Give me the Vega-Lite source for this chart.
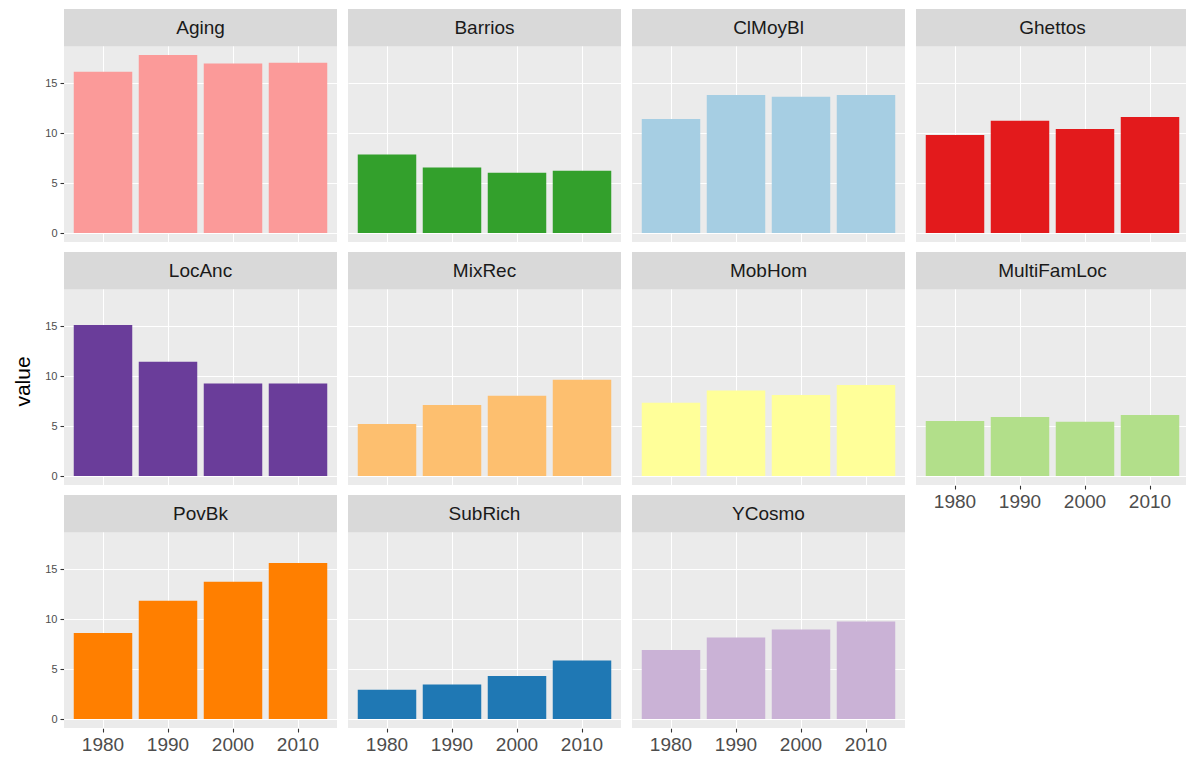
{
  "$schema": "https://vega.github.io/schema/vega-lite/v6.json",
  "padding": {"left": 12, "top": 9, "right": 0, "bottom": 0},
  "background": "white",
  "title": {"text": "value", "orient": "left", "anchor": "middle", "font": "Liberation Sans", "fontSize": 21, "fontWeight": "normal", "color": "black", "offset": 11},
  "data": {"values": [
    {"group": "Aging", "year": "1980", "value": 16.13},
    {"group": "Aging", "year": "1990", "value": 17.8},
    {"group": "Aging", "year": "2000", "value": 16.97},
    {"group": "Aging", "year": "2010", "value": 17.03},
    {"group": "Barrios", "year": "1980", "value": 7.87},
    {"group": "Barrios", "year": "1990", "value": 6.57},
    {"group": "Barrios", "year": "2000", "value": 6.03},
    {"group": "Barrios", "year": "2010", "value": 6.23},
    {"group": "ClMoyBl", "year": "1980", "value": 11.4},
    {"group": "ClMoyBl", "year": "1990", "value": 13.8},
    {"group": "ClMoyBl", "year": "2000", "value": 13.63},
    {"group": "ClMoyBl", "year": "2010", "value": 13.8},
    {"group": "Ghettos", "year": "1980", "value": 9.8},
    {"group": "Ghettos", "year": "1990", "value": 11.23},
    {"group": "Ghettos", "year": "2000", "value": 10.4},
    {"group": "Ghettos", "year": "2010", "value": 11.6},
    {"group": "LocAnc", "year": "1980", "value": 15.1},
    {"group": "LocAnc", "year": "1990", "value": 11.43},
    {"group": "LocAnc", "year": "2000", "value": 9.27},
    {"group": "LocAnc", "year": "2010", "value": 9.27},
    {"group": "MixRec", "year": "1980", "value": 5.2},
    {"group": "MixRec", "year": "1990", "value": 7.1},
    {"group": "MixRec", "year": "2000", "value": 8.03},
    {"group": "MixRec", "year": "2010", "value": 9.63},
    {"group": "MobHom", "year": "1980", "value": 7.33},
    {"group": "MobHom", "year": "1990", "value": 8.57},
    {"group": "MobHom", "year": "2000", "value": 8.1},
    {"group": "MobHom", "year": "2010", "value": 9.1},
    {"group": "MultiFamLoc", "year": "1980", "value": 5.5},
    {"group": "MultiFamLoc", "year": "1990", "value": 5.9},
    {"group": "MultiFamLoc", "year": "2000", "value": 5.43},
    {"group": "MultiFamLoc", "year": "2010", "value": 6.1},
    {"group": "PovBk", "year": "1980", "value": 8.6},
    {"group": "PovBk", "year": "1990", "value": 11.83},
    {"group": "PovBk", "year": "2000", "value": 13.73},
    {"group": "PovBk", "year": "2010", "value": 15.6},
    {"group": "SubRich", "year": "1980", "value": 2.93},
    {"group": "SubRich", "year": "1990", "value": 3.47},
    {"group": "SubRich", "year": "2000", "value": 4.3},
    {"group": "SubRich", "year": "2010", "value": 5.87},
    {"group": "YCosmo", "year": "1980", "value": 6.9},
    {"group": "YCosmo", "year": "1990", "value": 8.17},
    {"group": "YCosmo", "year": "2000", "value": 8.97},
    {"group": "YCosmo", "year": "2010", "value": 9.77}
  ]},
  "spacing": 11,
  "hconcat": [
    {
      "transform": [{"filter": {"field": "group", "oneOf": ["Aging", "LocAnc", "PovBk"]}}],
      "facet": {"row": {"field": "group", "type": "nominal", "title": null, "sort": ["Aging", "LocAnc", "PovBk"],
        "header": {"labels": false, "title": null, "labelExpr": "''", "labelFontSize": 0, "labelPadding": 0}}},
      "spacing": 10,
      "spec": {
        "width": 273, "height": 233,
        "layer": [
          {"mark": {"type": "bar"},
           "encoding": {
             "x": {"field": "year", "type": "ordinal", "title": null, "scale": {"paddingInner": 0.1, "paddingOuter": 0.15}},
             "y": {"field": "value", "type": "quantitative", "title": null,
               "scale": {"domain": [-0.89, 22.41], "nice": false, "zero": false},
               "axis": {"values": [0, 2.5, 5, 7.5, 10, 12.5, 15, 17.5], "title": null,
                 "gridWidth": {"condition": {"test": "datum.value % 5 === 0", "value": 1.1}, "value": 0.55},
                 "tickOpacity": {"condition": {"test": "datum.value % 5 === 0", "value": 1}, "value": 0},
                 "labelExpr": "datum.value % 5 === 0 ? datum.label : ''"}},
             "color": {"field": "group", "type": "nominal", "legend": null,
               "scale": {"domain": ["Aging","Barrios","ClMoyBl","Ghettos","LocAnc","MixRec","MobHom","MultiFamLoc","PovBk","SubRich","YCosmo"],
                 "range": ["#FB9A99","#33A02C","#A6CEE3","#E31A1C","#6A3D9A","#FDBF6F","#FFFF99","#B2DF8A","#FF7F00","#1F78B4","#CAB2D6"]}}}},
          {"transform": [{"aggregate": [{"op": "count", "as": "n"}], "groupby": ["group"]}],
           "mark": {"type": "rect", "color": "#D9D9D9"},
           "encoding": {"y": {"datum": 18.69, "type": "quantitative", "title": null}, "y2": {"datum": 22.41}}},
          {"transform": [{"aggregate": [{"op": "count", "as": "n"}], "groupby": ["group"]}],
           "mark": {"type": "text", "font": "Liberation Sans", "fontSize": 19, "color": "#1A1A1A", "baseline": "middle", "align": "center"},
           "encoding": {"y": {"datum": 20.55, "type": "quantitative", "title": null}, "text": {"field": "group", "type": "nominal"}}}
        ]
      }
    },
    {
      "transform": [{"filter": {"field": "group", "oneOf": ["Barrios", "MixRec", "SubRich"]}}],
      "facet": {"row": {"field": "group", "type": "nominal", "title": null, "sort": ["Barrios", "MixRec", "SubRich"],
        "header": {"labels": false, "title": null, "labelExpr": "''", "labelFontSize": 0, "labelPadding": 0}}},
      "spacing": 10,
      "spec": {
        "width": 273, "height": 233,
        "layer": [
          {"mark": {"type": "bar"},
           "encoding": {
             "x": {"field": "year", "type": "ordinal", "title": null, "scale": {"paddingInner": 0.1, "paddingOuter": 0.15}},
             "y": {"field": "value", "type": "quantitative", "title": null,
               "scale": {"domain": [-0.89, 22.41], "nice": false, "zero": false},
               "axis": {"values": [0, 2.5, 5, 7.5, 10, 12.5, 15, 17.5], "title": null, "labels": false, "ticks": false,
                 "gridWidth": {"condition": {"test": "datum.value % 5 === 0", "value": 1.1}, "value": 0.55}}},
             "color": {"field": "group", "type": "nominal", "legend": null,
               "scale": {"domain": ["Aging","Barrios","ClMoyBl","Ghettos","LocAnc","MixRec","MobHom","MultiFamLoc","PovBk","SubRich","YCosmo"],
                 "range": ["#FB9A99","#33A02C","#A6CEE3","#E31A1C","#6A3D9A","#FDBF6F","#FFFF99","#B2DF8A","#FF7F00","#1F78B4","#CAB2D6"]}}}},
          {"transform": [{"aggregate": [{"op": "count", "as": "n"}], "groupby": ["group"]}],
           "mark": {"type": "rect", "color": "#D9D9D9"},
           "encoding": {"y": {"datum": 18.69, "type": "quantitative", "title": null}, "y2": {"datum": 22.41}}},
          {"transform": [{"aggregate": [{"op": "count", "as": "n"}], "groupby": ["group"]}],
           "mark": {"type": "text", "font": "Liberation Sans", "fontSize": 19, "color": "#1A1A1A", "baseline": "middle", "align": "center"},
           "encoding": {"y": {"datum": 20.55, "type": "quantitative", "title": null}, "text": {"field": "group", "type": "nominal"}}}
        ]
      }
    },
    {
      "transform": [{"filter": {"field": "group", "oneOf": ["ClMoyBl", "MobHom", "YCosmo"]}}],
      "facet": {"row": {"field": "group", "type": "nominal", "title": null, "sort": ["ClMoyBl", "MobHom", "YCosmo"],
        "header": {"labels": false, "title": null, "labelExpr": "''", "labelFontSize": 0, "labelPadding": 0}}},
      "spacing": 10,
      "spec": {
        "width": 273, "height": 233,
        "layer": [
          {"mark": {"type": "bar"},
           "encoding": {
             "x": {"field": "year", "type": "ordinal", "title": null, "scale": {"paddingInner": 0.1, "paddingOuter": 0.15}},
             "y": {"field": "value", "type": "quantitative", "title": null,
               "scale": {"domain": [-0.89, 22.41], "nice": false, "zero": false},
               "axis": {"values": [0, 2.5, 5, 7.5, 10, 12.5, 15, 17.5], "title": null, "labels": false, "ticks": false,
                 "gridWidth": {"condition": {"test": "datum.value % 5 === 0", "value": 1.1}, "value": 0.55}}},
             "color": {"field": "group", "type": "nominal", "legend": null,
               "scale": {"domain": ["Aging","Barrios","ClMoyBl","Ghettos","LocAnc","MixRec","MobHom","MultiFamLoc","PovBk","SubRich","YCosmo"],
                 "range": ["#FB9A99","#33A02C","#A6CEE3","#E31A1C","#6A3D9A","#FDBF6F","#FFFF99","#B2DF8A","#FF7F00","#1F78B4","#CAB2D6"]}}}},
          {"transform": [{"aggregate": [{"op": "count", "as": "n"}], "groupby": ["group"]}],
           "mark": {"type": "rect", "color": "#D9D9D9"},
           "encoding": {"y": {"datum": 18.69, "type": "quantitative", "title": null}, "y2": {"datum": 22.41}}},
          {"transform": [{"aggregate": [{"op": "count", "as": "n"}], "groupby": ["group"]}],
           "mark": {"type": "text", "font": "Liberation Sans", "fontSize": 19, "color": "#1A1A1A", "baseline": "middle", "align": "center"},
           "encoding": {"y": {"datum": 20.55, "type": "quantitative", "title": null}, "text": {"field": "group", "type": "nominal"}}}
        ]
      }
    },
    {
      "transform": [{"filter": {"field": "group", "oneOf": ["Ghettos", "MultiFamLoc"]}}],
      "facet": {"row": {"field": "group", "type": "nominal", "title": null, "sort": ["Ghettos", "MultiFamLoc"],
        "header": {"labels": false, "title": null, "labelExpr": "''", "labelFontSize": 0, "labelPadding": 0}}},
      "spacing": 10,
      "spec": {
        "width": 273, "height": 233,
        "layer": [
          {"mark": {"type": "bar"},
           "encoding": {
             "x": {"field": "year", "type": "ordinal", "title": null, "scale": {"paddingInner": 0.1, "paddingOuter": 0.15}},
             "y": {"field": "value", "type": "quantitative", "title": null,
               "scale": {"domain": [-0.89, 22.41], "nice": false, "zero": false},
               "axis": {"values": [0, 2.5, 5, 7.5, 10, 12.5, 15, 17.5], "title": null, "labels": false, "ticks": false,
                 "gridWidth": {"condition": {"test": "datum.value % 5 === 0", "value": 1.1}, "value": 0.55}}},
             "color": {"field": "group", "type": "nominal", "legend": null,
               "scale": {"domain": ["Aging","Barrios","ClMoyBl","Ghettos","LocAnc","MixRec","MobHom","MultiFamLoc","PovBk","SubRich","YCosmo"],
                 "range": ["#FB9A99","#33A02C","#A6CEE3","#E31A1C","#6A3D9A","#FDBF6F","#FFFF99","#B2DF8A","#FF7F00","#1F78B4","#CAB2D6"]}}}},
          {"transform": [{"aggregate": [{"op": "count", "as": "n"}], "groupby": ["group"]}],
           "mark": {"type": "rect", "color": "#D9D9D9"},
           "encoding": {"y": {"datum": 18.69, "type": "quantitative", "title": null}, "y2": {"datum": 22.41}}},
          {"transform": [{"aggregate": [{"op": "count", "as": "n"}], "groupby": ["group"]}],
           "mark": {"type": "text", "font": "Liberation Sans", "fontSize": 19, "color": "#1A1A1A", "baseline": "middle", "align": "center"},
           "encoding": {"y": {"datum": 20.55, "type": "quantitative", "title": null}, "text": {"field": "group", "type": "nominal"}}}
        ]
      }
    }
  ],
  "config": {
    "view": {"fill": "#EBEBEB", "stroke": null},
    "header": {"labels": false, "labelFontSize": 0, "labelPadding": 0},
    "axis": {"labelFlush": false, "labelOverlap": false},
    "axisX": {"bandPosition": 0.5, "grid": true, "gridColor": "white", "gridWidth": 1.1,
      "domain": false, "ticks": true, "tickColor": "#333333", "tickSize": 4, "tickWidth": 1.1,
      "labelAngle": 0, "labelFont": "Liberation Sans", "labelFontSize": 19, "labelColor": "#4D4D4D", "labelPadding": 3},
    "axisY": {"grid": true, "gridColor": "white", "domain": false, "tickColor": "#333333", "tickSize": 4, "tickWidth": 1.1,
      "labelFont": "Liberation Sans", "labelFontSize": 11, "labelColor": "#4D4D4D", "labelPadding": 3}
  }
}
